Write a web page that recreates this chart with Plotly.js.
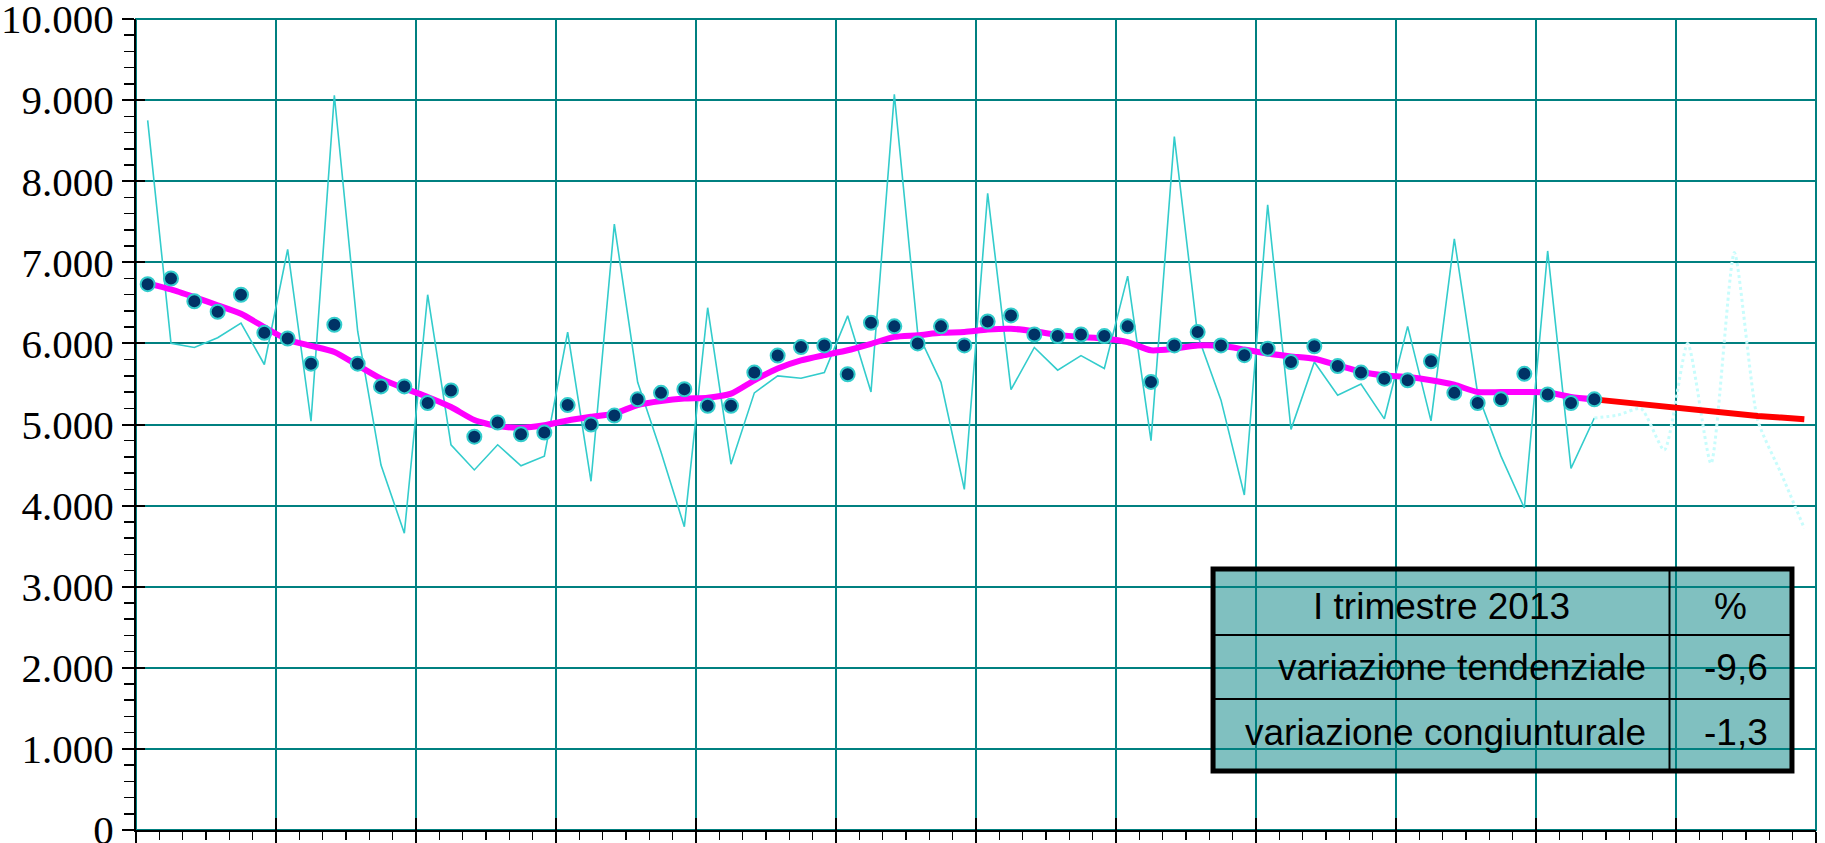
<!DOCTYPE html>
<html>
<head>
<meta charset="utf-8">
<script src="https://cdn.plot.ly/plotly-3.0.1.min.js"></script>
<style>
  html, body { margin: 0; padding: 0; background: #ffffff; }
  #chart { width: 1825px; height: 843px; }
</style>
</head>
<body>
<div id="chart"></div>
<script>
// ---- data (quarterly series, index 0 = first quarter shown) ----
const rawSeries = [8750, 6000, 5950, 6070, 6250, 5740, 7160, 5040, 9060, 6150,
                   4500, 3660, 6600, 4750, 4440, 4750, 4490, 4610, 6140, 4300,
                   7470, 5520, 4660, 3740, 6440, 4510, 5390, 5600, 5570, 5640,
                   6340, 5400, 9070, 6130, 5520, 4200, 7850, 5430, 5950, 5670,
                   5850, 5690, 6830, 4800, 8550, 6100, 5300, 4130, 7710, 4940,
                   5770, 5360, 5500, 5070, 6210, 5045, 7290, 5380, 4610, 3970,
                   7140, 4460, 5080];
const seasAdj = [6730, 6800, 6520, 6390, 6600, 6130, 6060, 5750, 6230, 5750,
                 5470, 5470, 5265, 5420, 4850, 5025, 4880, 4900, 5240, 5000,
                 5110, 5310, 5390, 5435, 5230, 5230, 5640, 5850, 5955, 5975,
                 5620, 6255, 6210, 6000, 6210, 5975, 6270, 6345, 6110, 6090,
                 6110, 6090, 6210, 5525, 5975, 6140, 5975, 5855, 5935, 5770,
                 5965, 5720, 5640, 5565, 5545, 5780, 5390, 5265, 5310, 5625,
                 5370, 5265, 5310];
const trend = [6740, 6665, 6570, 6470, 6365, 6200, 6045, 5970, 5895, 5730,
               5565, 5445, 5340, 5215, 5055, 4980, 4960, 4990, 5050, 5095,
               5135, 5240, 5290, 5320, 5330, 5380, 5545, 5690, 5790, 5855,
               5915, 5995, 6080, 6100, 6130, 6140, 6170, 6180, 6150, 6105,
               6080, 6060, 6015, 5915, 5935, 5975, 5970, 5925, 5875, 5840,
               5810, 5730, 5650, 5605, 5585, 5545, 5490, 5400, 5400, 5400,
               5395, 5340, 5310];
const trendForecast = [5310, 5280, 5250, 5225, 5195, 5155, 5135, 5105, 5085, 5065];
const rawForecast   = [5080, 5115, 5195, 4685, 6000, 4520, 7120, 5055, 4400, 3720];

const tableHeader = ["I trimestre 2013", "%"];
const tableRows   = ["variazione tendenziale", "variazione congiunturale"];
const tableValues = ["-9,6", "-1,3"];

const nObs = rawSeries.length;                 // observed quarters
const nTotal = nObs - 1 + trendForecast.length; // categories on axis
const idxObs = rawSeries.map((_, i) => i);
const idxFc = trendForecast.map((_, i) => nObs - 1 + i);

const teal = '#008080';
const cyan = '#33CCCC';

const traces = [
  { x: idxObs, y: rawSeries, type: 'scatter', mode: 'lines',
    line: { color: cyan, width: 1.6 }, hoverinfo: 'skip' },
  { x: idxFc, y: rawForecast, type: 'scatter', mode: 'lines',
    line: { color: '#C8FCFC', width: 3, dash: 'dot', shape: 'spline', smoothing: 0.6 }, hoverinfo: 'skip' },
  { x: idxObs, y: trend, type: 'scatter', mode: 'lines',
    line: { color: '#FF00FF', width: 6, shape: 'spline', smoothing: 0.6 }, hoverinfo: 'skip' },
  { x: idxFc, y: trendForecast, type: 'scatter', mode: 'lines',
    line: { color: '#FF0000', width: 6 }, hoverinfo: 'skip' },
  { x: idxObs, y: seasAdj, type: 'scatter', mode: 'markers', xaxis: 'x2', yaxis: 'y2',
    marker: { color: '#003366', size: 14, line: { color: cyan, width: 2 } }, hoverinfo: 'skip' }
];

const xRange = [-0.5, nTotal - 0.5];
const yRange = [0, 10000];

// table geometry in paper units
const tx0 = 0.6411, tx1 = 0.9857, tcol = 0.9128;
const ty0 = 0.0727, ty1 = 0.3218, tr1 = 0.2404, tr2 = 0.1615;

const shapes = [
  { type: 'rect', xref: 'paper', yref: 'paper', x0: 0, x1: 1, y0: 0, y1: 1,
    line: { color: teal, width: 2 }, fillcolor: 'rgba(0,0,0,0)', layer: 'below' },
  { type: 'rect', xref: 'paper', yref: 'paper', x0: tx0, x1: tx1, y0: ty0, y1: ty1,
    line: { width: 0 }, fillcolor: '#80C0C0', layer: 'below' },
  { type: 'line', xref: 'paper', yref: 'paper', x0: tx0, x1: tx1, y0: tr1, y1: tr1,
    line: { color: '#000000', width: 2 } },
  { type: 'line', xref: 'paper', yref: 'paper', x0: tx0, x1: tx1, y0: tr2, y1: tr2,
    line: { color: '#000000', width: 2 } },
  { type: 'line', xref: 'paper', yref: 'paper', x0: tcol, x1: tcol, y0: ty0, y1: ty1,
    line: { color: '#000000', width: 2 } },
  { type: 'rect', xref: 'paper', yref: 'paper', x0: tx0, x1: tx1, y0: ty0, y1: ty1,
    line: { color: '#000000', width: 5 }, fillcolor: 'rgba(0,0,0,0)' }
];

const tFont = { family: 'Liberation Sans, Arial, sans-serif', size: 37, color: '#000000' };
const rowY = [0.2762, 0.1998, 0.1208];
const annotations = [
  { xref: 'paper', yref: 'paper', x: (tx0 + tcol) / 2, y: rowY[0], text: tableHeader[0],
    showarrow: false, xanchor: 'center', yanchor: 'middle', font: tFont },
  { xref: 'paper', yref: 'paper', x: (tcol + tx1) / 2, y: rowY[0], text: tableHeader[1],
    showarrow: false, xanchor: 'center', yanchor: 'middle', font: tFont }
];
tableRows.forEach((r, k) => {
  annotations.push({ xref: 'paper', yref: 'paper', x: 0.900, y: rowY[k + 1], text: r,
    showarrow: false, xanchor: 'right', yanchor: 'middle', font: tFont });
  annotations.push({ xref: 'paper', yref: 'paper', x: 0.9726, y: rowY[k + 1], text: tableValues[k],
    showarrow: false, xanchor: 'right', yanchor: 'middle', font: tFont });
});

const layout = {
  width: 1825, height: 843,
  margin: { l: 136, r: 9, t: 19, b: 13, pad: 0 },
  separators: ',.',
  paper_bgcolor: '#ffffff', plot_bgcolor: '#ffffff',
  showlegend: false,
  xaxis: {
    range: xRange, tickmode: 'linear', tick0: -0.5, dtick: 6,
    showgrid: true, gridcolor: teal, gridwidth: 2,
    showline: true, linecolor: '#000000', linewidth: 2,
    ticks: 'outside', ticklen: 13, tickwidth: 2, tickcolor: '#000000',
    showticklabels: false, zeroline: false, fixedrange: true,
    minor: { tick0: -0.5, dtick: 1, ticks: 'outside', ticklen: 8, tickwidth: 1.5,
             tickcolor: '#000000', showgrid: false }
  },
  yaxis: {
    range: yRange, tickmode: 'linear', tick0: 0, dtick: 1000, tickformat: ',d',
    showgrid: true, gridcolor: teal, gridwidth: 2,
    showline: true, linecolor: '#000000', linewidth: 2,
    ticks: 'outside', ticklen: 12, tickwidth: 2, tickcolor: '#000000',
    ticklabelstandoff: 0, ticklabeloverflow: 'allow',
    tickfont: { family: 'Liberation Serif, Times New Roman, serif', size: 41, color: '#000000' },
    zeroline: false, fixedrange: true,
    minor: { tick0: 0, dtick: 200, ticks: 'outside', ticklen: 10, tickwidth: 1.5,
             tickcolor: '#000000', showgrid: false }
  },
  xaxis2: {
    overlaying: 'x', anchor: 'y2', side: 'bottom', range: xRange,
    tickmode: 'linear', tick0: -0.5, dtick: 6, ticks: 'inside', ticklen: 12, tickwidth: 2,
    tickcolor: '#000000', showticklabels: false, showgrid: false, zeroline: false, showline: false,
    fixedrange: true
  },
  yaxis2: {
    overlaying: 'y', anchor: 'x2', side: 'left', range: yRange,
    tickmode: 'linear', tick0: 0, dtick: 1000, ticks: 'inside', ticklen: 9, tickwidth: 2,
    tickcolor: '#000000', showticklabels: false, showgrid: false, zeroline: false, showline: false,
    fixedrange: true
  },
  shapes: shapes,
  annotations: annotations
};

Plotly.newPlot('chart', traces, layout, { displayModeBar: false, staticPlot: true });
</script>
</body>
</html>
